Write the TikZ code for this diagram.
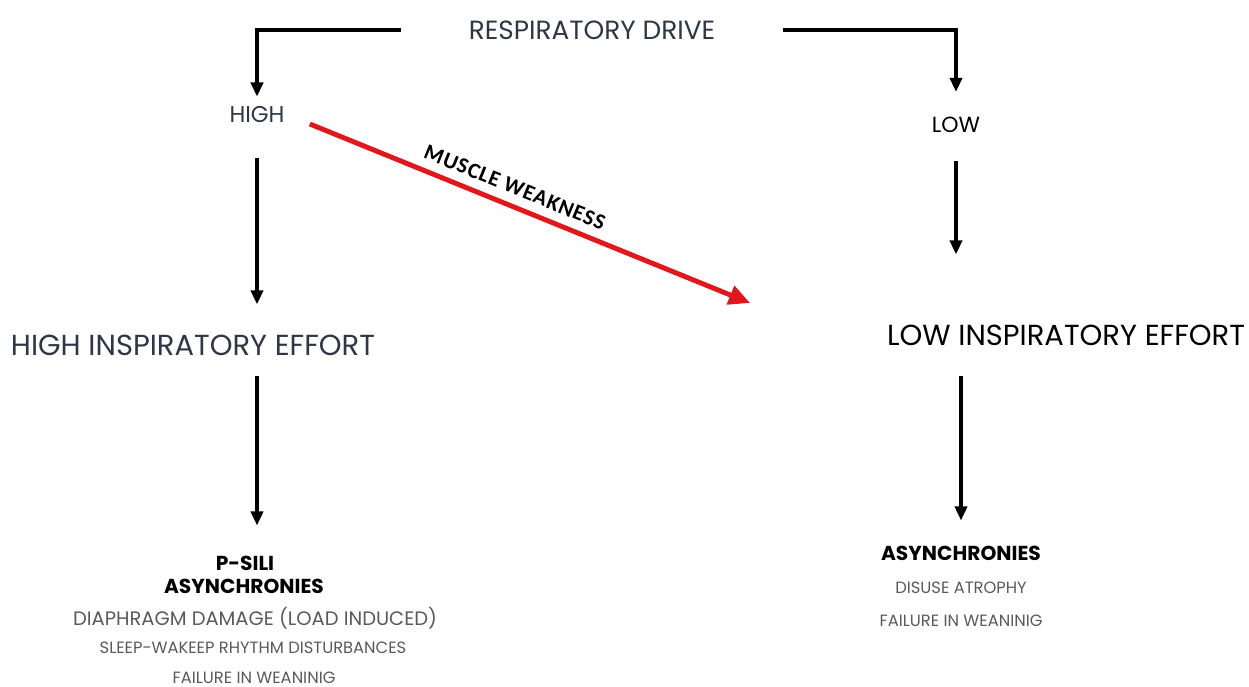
\documentclass[tikz,border=0pt]{standalone}
\usepackage{fontspec}
\setmainfont{Poppins}
\newfontfamily\labelfont[LetterSpace=4]{Carlito}
\usetikzlibrary{arrows.meta}
\definecolor{titulo}{HTML}{2F3747}
\definecolor{gris}{HTML}{5A5A5A}
\definecolor{rojo}{HTML}{E2161B}

\begin{document}
\begin{tikzpicture}[x=0.02cm, y=-0.02cm,
    texto/.style={inner sep=0pt, text=titulo},
    grande/.style={texto, font=\fontsize{16.5}{18}\selectfont},
    medio/.style={texto, font=\fontsize{13}{15}\selectfont},
    negrita/.style={texto, text=black, font=\fontsize{11.5}{13}\selectfont\bfseries},
    detalle/.style={texto, text=gris, font=\fontsize{11.1}{13}\selectfont},
    pequeno/.style={texto, text=gris, font=\fontsize{9.3}{11}\selectfont},
    flecha/.style={-{Triangle[length=8pt, width=7pt]}, line width=1.8pt},
    roja/.style={-{Triangle[length=12pt, width=11pt]}, line width=2.8pt, draw=rojo}
  ]
    \useasboundingbox (0,0) rectangle (1249,687);

    \node[medio, font=\fontsize{15}{17}\selectfont, minimum width=7.64cm] (drive) at (592,30) {RESPIRATORY DRIVE};
    \node[medio] (alto) at (257,115) {HIGH};
    \node[medio, text=black, font=\fontsize{12.5}{15}\selectfont] (bajo) at (956,125) {LOW};
    \node[grande] (esfalto) at (193,345) {HIGH INSPIRATORY EFFORT};
    \node[grande, text=black] (esfbajo) at (1066,335) {LOW INSPIRATORY EFFORT};

    % lado alto
    \node[negrita] (psili) at (245,563) {P-SILI};
    \node[negrita] (asinc1) at (244,586) {ASYNCHRONIES};
    \node[detalle] (diafragma) at (255,618) {DIAPHRAGM DAMAGE (LOAD INDUCED)};
    \node[pequeno] (sueno) at (253,648) {SLEEP-WAKEEP RHYTHM DISTURBANCES};
    \node[pequeno] (fallo1) at (254,678) {FAILURE IN WEANINIG};

    % lado bajo
    \node[negrita] (asinc2) at (961,553) {ASYNCHRONIES};
    \node[pequeno] (atrofia) at (961,588) {DISUSE ATROPHY};
    \node[pequeno] (fallo2) at (961,621) {FAILURE IN WEANINIG};

    \coordinate (debil) at (750,303);

    \draw[flecha] (drive.west) -| ([yshift=0.2cm]alto.north);
    \draw[flecha] (drive.east) -| ([yshift=0.5cm]bajo.north);
    \draw[flecha, shorten <=0.7cm] (alto.south) -- ([yshift=0.6cm]alto.south |- esfalto.north);
    \draw[flecha, shorten <=0.4cm] (esfalto.south -| alto) -- ([yshift=0.6cm]alto |- psili.north);
    \draw[flecha, shorten <=0.55cm] (bajo.south) -- ([yshift=1.4cm]bajo.south |- esfbajo.north);
    \draw[flecha, shorten <=0.6cm] (esfbajo.south -| asinc2) -- ([yshift=0.5cm]asinc2.north);

    \draw[roja] ([xshift=0.5cm, yshift=-0.18cm]alto.east) -- (debil)
      node[pos=0.45, above, sloped, inner sep=5pt, text=black, font=\labelfont\fontsize{12.5}{15}\selectfont\bfseries] {MUSCLE WEAKNESS};
  \end{tikzpicture}
\end{document}
